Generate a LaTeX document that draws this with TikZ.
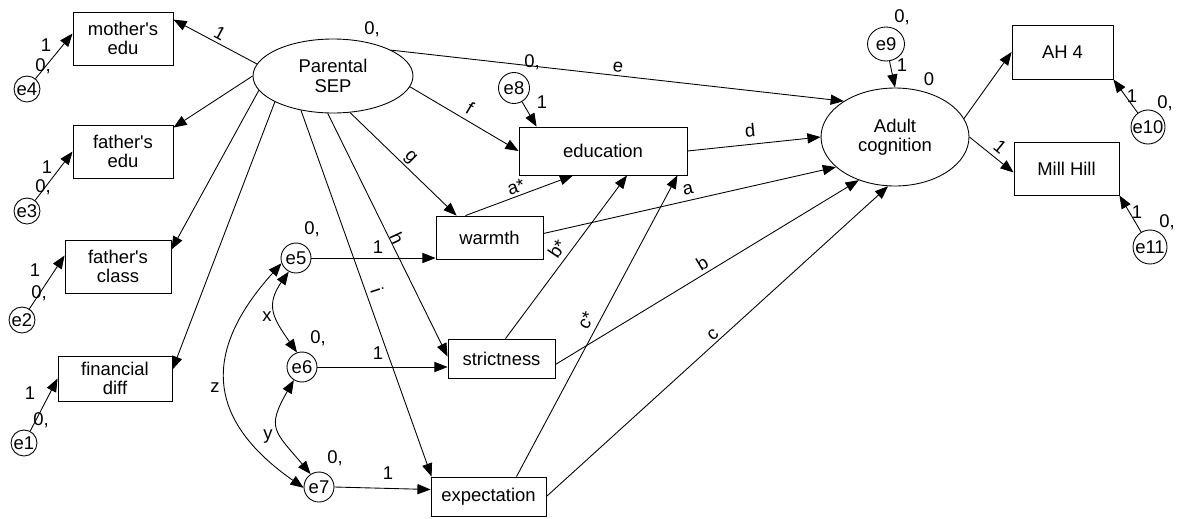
\documentclass[tikz,border=0pt]{standalone}
\usepackage{fontspec}
\setmainfont{Liberation Sans}
\usetikzlibrary{arrows.meta,shapes.geometric,calc}
\begin{document}
\begin{tikzpicture}[x=0.02cm,y=-0.02cm,
  every node/.style={font=\fontsize{10.5}{11}\selectfont},
  obs/.style={draw,line width=0.5pt,rectangle,inner sep=0pt,align=center},
  lat/.style={draw,line width=0.5pt,ellipse,inner sep=0pt,align=center},
  err/.style={draw,line width=0.5pt,circle,inner sep=0pt},
  lbl/.style={inner sep=0pt},
  arr/.style={line width=0.5pt,-{Triangle[length=7.5pt,width=5.8pt]}},
  cov/.style={line width=0.5pt,{Triangle[length=7.5pt,width=5.8pt]}-{Triangle[length=7.5pt,width=5.8pt]}}
]
\useasboundingbox (0,0) rectangle (1182,518);
% observed indicators
\node[obs,minimum width=2cm,minimum height=1.06cm] (mom) at (123,38.5) {mother\textquotesingle s\\edu};
\node[obs,minimum width=2cm,minimum height=1.06cm] (fedu) at (123,151.5) {father\textquotesingle s\\edu};
\node[obs,minimum width=2.12cm,minimum height=1.06cm] (fclass) at (118,266.5) {father\textquotesingle s\\class};
\node[obs,minimum width=2.28cm,minimum height=0.9cm] (fin) at (115,378.5) {financial\\diff};
\node[lat,minimum width=3.2cm,minimum height=1.48cm] (sep) at (333,76) {Parental\\SEP};
\node[obs,minimum width=3.36cm,minimum height=0.96cm] (edu) at (603,151) {education};
\node[obs,minimum width=2.14cm,minimum height=0.86cm] (warmth) at (489.5,237.5) {warmth};
\node[obs,minimum width=2.14cm,minimum height=0.78cm] (strict) at (501.5,358.5) {strictness};
\node[obs,minimum width=2.3cm,minimum height=0.78cm] (expect) at (488.5,496.5) {expectation};
\node[lat,minimum width=2.96cm,minimum height=1.96cm] (adult) at (895,137) {Adult\\cognition};
\node[obs,minimum width=2.02cm,minimum height=1.08cm] (ah4) at (1062.5,52) {AH 4};
\node[obs,minimum width=2.1cm,minimum height=1.06cm] (mill) at (1066.5,168.5) {Mill Hill};
% error terms
\node[err,minimum size=0.52cm] (e4) at (27,89) {e4};
\node[err,minimum size=0.52cm] (e3) at (27,211) {e3};
\node[err,minimum size=0.52cm] (e2) at (22,320) {e2};
\node[err,minimum size=0.52cm] (e1) at (24,443) {e1};
\node[err,minimum size=0.6cm] (e5) at (296,258) {e5};
\node[err,minimum size=0.6cm] (e6) at (302,367) {e6};
\node[err,minimum size=0.6cm] (e7) at (319,487) {e7};
\node[err,minimum size=0.62cm] (e8) at (514,88) {e8};
\node[lat,minimum width=0.74cm,minimum height=0.68cm] (e9) at (886,44) {e9};
\node[err,minimum size=0.68cm] (e10) at (1148,127) {e10};
\node[err,minimum size=0.68cm] (e11) at (1150,247) {e11};
% structural paths from Parental SEP
\draw[arr] (sep.171) -- ($(mom.north east)+(0,8)$);
\draw[arr] (sep.180) -- ($(fedu.north east)+(0,3)$);
\draw[arr] (sep.191) -- ($(fclass.north east)+(0,10)$);
\draw[arr] (sep.204) -- ($(fin.north east)+(0,14)$);
\draw[arr] (sep.227) -- ($(expect.north west)+(1,0)$);
\draw[arr] (sep.262) -- ($(strict.west)+(0,-2)$);
\draw[arr] (sep.295) -- ($(warmth.north west)+(21,0)$);
\draw[arr] (sep.352) -- (edu.west);
\draw[arr] (sep.24) -- (adult.145);
% other paths
\draw[arr] (edu.east) -- (adult.west);
\draw[arr] ($(warmth.east)+(0,-4)$) -- (adult.207);
\draw[arr] ($(warmth.north)+(-24,0)$) -- ($(edu.south)+(-30,0)$);
\draw[arr] ($(strict.north)+(4,0)$) -- ($(edu.south)+(24,0)$);
\draw[arr] ($(expect.north)+(28,0)$) -- ($(edu.south east)+(-10,0)$);
\draw[arr] ($(strict.east)+(0,6)$) -- (adult.230);
\draw[arr] (expect.east) -- (adult.262);
\draw[arr] (adult.15) -- (ah4.west);
\draw[arr] (adult.east) -- ($(mill.west)+(0,4)$);
% error arrows
\draw[arr] (e4) -- ($(mom.west)+(0,-5)$);
\draw[arr] (e3) -- (fedu.west);
\draw[arr] (e2) -- ($(fclass.west)+(0,-11)$);
\draw[arr] (e1) -- (fin.west);
\draw[arr] (e5.east) -- (e5.east -| warmth.west);
\draw[arr] (e6.east) -- (e6.east -| strict.west);
\draw[arr] (e7.east) -- ($(expect.west)+(0,-7)$);
\draw[arr] (e8) -- ($(edu.north west)+(18,0)$);
\draw[arr] (e9) -- (adult.north);
\draw[arr] (e10) -- (ah4.south east);
\draw[arr] (e11) -- (mill.south east);
% covariances
\draw[cov] (e5.242) to[out=235,in=125,looseness=1.3] (e6.109);
\draw[cov] (e6.238) to[out=240,in=130,looseness=1.5] (e7.123);
\draw[cov] (e5.200) to[out=228,in=145,looseness=1.35] (e7.183);
% path labels
\node[lbl,rotate=-28] (l1) at (220,33) {1};
\node[lbl,rotate=-31] (lf) at (470,108) {f};
\node[lbl,rotate=-44] (lg) at (410,158) {g};
\node[lbl,rotate=-65] (lh) at (397,238) {h};
\node[lbl,rotate=-72] (li) at (377,290) {i};
\node[lbl,rotate=-6] (le) at (618,67) {e};
\node[lbl,rotate=6] (ld) at (750,130) {d};
\node[lbl,rotate=13] (la) at (688,190) {a};
\node[lbl,rotate=19] (las) at (516,187) {a*};
\node[lbl,rotate=56] (lbs) at (557,249) {b*};
\node[lbl,rotate=62] (lcs) at (586,320) {c*};
\node[lbl,rotate=31] (lb) at (702,263) {b};
\node[lbl,rotate=42] (lc) at (713,335) {c};
\node[lbl,rotate=-39] (lm) at (1000,147) {1};
\node[lbl] (lx) at (267,317) {x};
\node[lbl] (ly) at (268,437) {y};
\node[lbl] (lz) at (215,388) {z};
% variance / weight labels
\node[lbl] (vsep) at (372,29) {0,};
\node[lbl] (v8) at (532,62) {0,};
\node[lbl] (w8) at (542,102) {1};
\node[lbl] (v9) at (902,17) {0,};
\node[lbl] (w9) at (902,65) {1};
\node[lbl] (iad) at (929,79) {0};
\node[lbl] (w10) at (1132,96) {1};
\node[lbl] (v10) at (1165,103) {0,};
\node[lbl] (w11) at (1137,212) {1};
\node[lbl] (v11) at (1167,222) {0,};
\node[lbl] (w4) at (46,45) {1};
\node[lbl] (v4) at (43,66) {0,};
\node[lbl] (w3) at (47,167) {1};
\node[lbl] (v3) at (43,187) {0,};
\node[lbl] (w2) at (35,270) {1};
\node[lbl] (v2) at (39,293) {0,};
\node[lbl] (w1) at (30,393) {1};
\node[lbl] (v1) at (41,420) {0,};
\node[lbl] (v5) at (312,229) {0,};
\node[lbl] (v6) at (318,338) {0,};
\node[lbl] (v7) at (335,458) {0,};
\node[lbl] (w5) at (378,247) {1};
\node[lbl] (w6) at (378,353) {1};
\node[lbl] (w7) at (388,473) {1};
\end{tikzpicture}
\end{document}
